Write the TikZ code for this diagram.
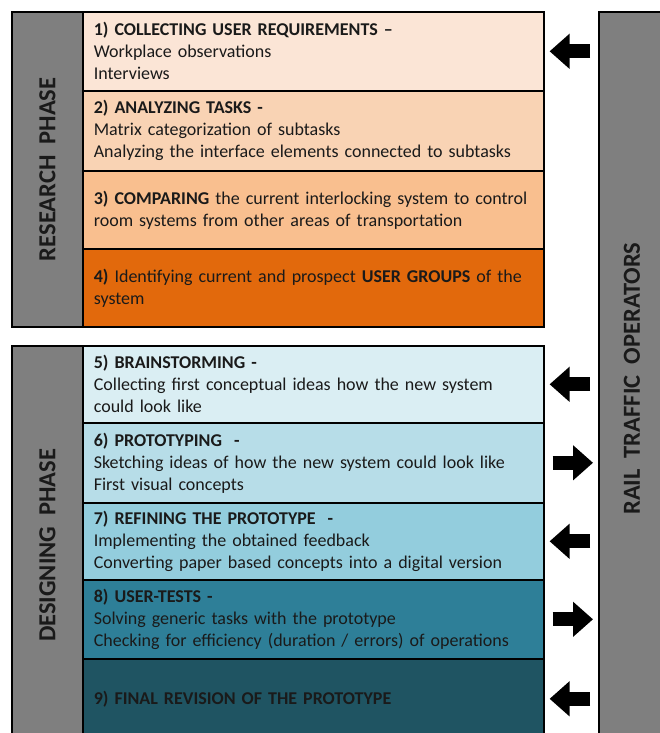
\documentclass[tikz,border=0pt]{standalone}
\usepackage{fontspec}
\setmainfont{Carlito}
\usetikzlibrary{arrows.meta}
\definecolor{reqcol}{HTML}{FBE5D6}
\definecolor{taskcol}{HTML}{F9D3B4}
\definecolor{compcol}{HTML}{F9BF8F}
\definecolor{groupcol}{HTML}{E2690C}
\definecolor{braincol}{HTML}{DAEEF3}
\definecolor{protocol}{HTML}{B7DDE8}
\definecolor{refinecol}{HTML}{93CDDD}
\definecolor{testcol}{HTML}{2E7F98}
\definecolor{finalcol}{HTML}{1F5462}
\definecolor{labelgray}{HTML}{7F7F7F}
\definecolor{inkcol}{HTML}{1A1A1A}
\tikzset{
  rowbox/.style={draw=black, line width=1.6pt, anchor=north west,
    minimum width=461pt, text width=439pt, inner xsep=11pt, inner ysep=0pt,
    align=left, text=inkcol, font=\fontsize{18}{22}\selectfont},
  graybox/.style={draw=black, line width=1.6pt, fill=labelgray, anchor=north west},
  phasetext/.style={rotate=90, text=inkcol, font=\fontsize{24.5}{28}\selectfont\bfseries},
  feedback/.style={-{Triangle[length=20pt,width=34pt]}, line width=14pt,
    shorten >=5pt, shorten <=8pt}
}

\begin{document}
\begin{tikzpicture}[x=1pt, y=-1pt]
  \useasboundingbox (0,0) rectangle (660,733);
  \clip (0,0) rectangle (660,733);

  % research phase
  \node[graybox, minimum width=71pt, minimum height=315pt] (research) at (11,11) {};
  \node[phasetext] (researchtxt) at (research.center) {RESEARCH\ \ PHASE};
  \node[rowbox, fill=reqcol, minimum height=79pt] (r1) at (82,11)
    {\textbf{1) COLLECTING USER REQUIREMENTS –}\\Workplace observations\\Interviews};
  \node[rowbox, fill=taskcol, minimum height=80pt] (r2) at (82,90)
    {\textbf{2) ANALYZING TASKS -}\\Matrix categorization of subtasks\\Analyzing the interface elements connected to subtasks};
  \node[rowbox, fill=compcol, minimum height=78pt] (r3) at (82,170)
    {\textbf{3) COMPARING} the current interlocking system to control\\room systems from other areas of transportation};
  \node[rowbox, fill=groupcol, minimum height=78pt] (r4) at (82,248)
    {\textbf{4)} Identifying current and prospect \textbf{USER GROUPS} of the\\system};

  % designing phase
  \node[graybox, minimum width=71pt, minimum height=395pt] (design) at (11,345) {};
  \node[phasetext] (designtxt) at ([yshift=-2pt]design.center) {DESIGNING\ \ PHASE};
  \node[rowbox, fill=braincol, minimum height=77pt] (r5) at (82,345)
    {\textbf{5) BRAINSTORMING -}\\Collecting first conceptual ideas how the new system\\could look like};
  \node[rowbox, fill=protocol, minimum height=80pt] (r6) at (82,422)
    {\textbf{6) PROTOTYPING\ \ -}\\Sketching ideas of how the new system could look like\\First visual concepts};
  \node[rowbox, fill=refinecol, minimum height=77pt] (r7) at (82,502)
    {\textbf{7) REFINING THE PROTOTYPE\ \ -}\\Implementing the obtained feedback\\Converting paper based concepts into a digital version};
  \node[rowbox, fill=testcol, minimum height=79pt] (r8) at (82,579)
    {\textbf{8) USER-TESTS -}\\Solving generic tasks with the prototype\\Checking for efficiency (duration / errors) of operations};
  \node[rowbox, fill=finalcol, minimum height=80pt] (r9) at (82,658)
    {\textbf{9) FINAL REVISION OF THE PROTOTYPE}};

  % operators column
  \node[graybox, minimum width=66pt, minimum height=730pt] (ops) at (598,11) {};
  \node[phasetext] (opstxt) at ([yshift=-2pt]ops.center) {RAIL\ \ TRAFFIC\ \ OPERATORS};

  % exchange with the operators
  \draw[feedback] (ops.west |- r1.east) -- (r1.east);
  \draw[feedback] (ops.west |- r5.east) -- (r5.east);
  \draw[feedback] (r6.east) -- (ops.west |- r6.east);
  \draw[feedback] (ops.west |- r7.east) -- (r7.east);
  \draw[feedback] (r8.east) -- (ops.west |- r8.east);
  \draw[feedback] (ops.west |- r9.east) -- (r9.east);
\end{tikzpicture}
\end{document}
